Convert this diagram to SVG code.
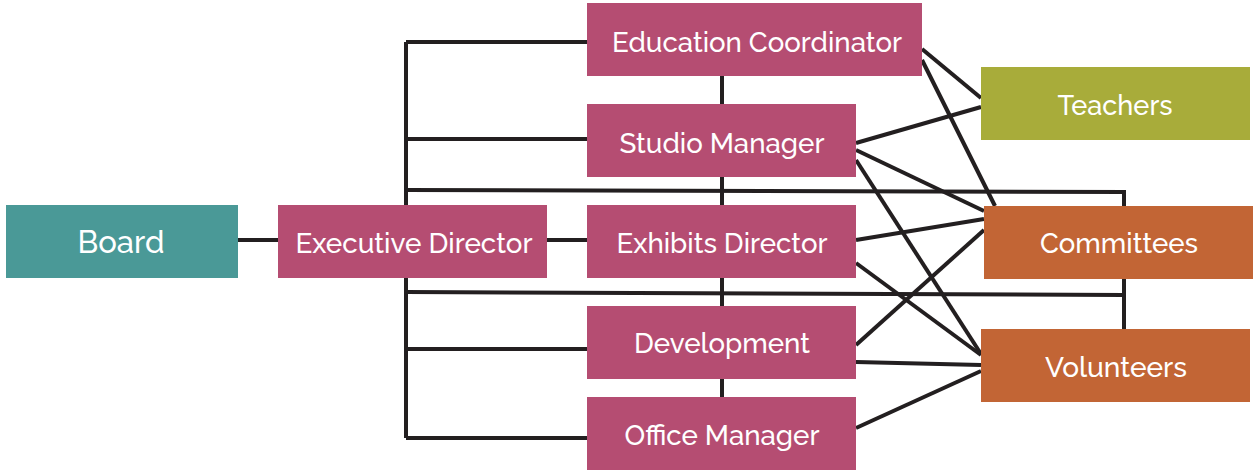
<svg xmlns="http://www.w3.org/2000/svg" width="1253" height="470" viewBox="0 0 1253 470">
<style>
.pink{fill:#b54d72}
.teal{fill:#4a9997}
.olive{fill:#a8ac3a}
.orange{fill:#c26535}
.lbl{font-family:Raleway,"Lato","Open Sans",sans-serif;font-size:27.5px;font-weight:500;fill:#ffffff;text-anchor:middle}
.big{font-size:32px}
.ln{stroke:#231f20;stroke-width:4;fill:none}
</style>
<rect width="1253" height="470" fill="#ffffff"/>
<g id="connectors">
<path class="ln" d="M406,42 V438"/>
<path class="ln" d="M406,42 H587"/>
<path class="ln" d="M406,139 H587"/>
<path class="ln" d="M406,349 H587"/>
<path class="ln" d="M406,438 H587"/>
<path class="ln" d="M406,190 L1124,192 V206"/>
<path class="ln" d="M406,292 L1124,295"/>
<path class="ln" d="M1124,279 V329"/>
<path class="ln" d="M238,240 H278"/>
<path class="ln" d="M547,240 H587"/>
<path class="ln" d="M722,76 V397"/>
<path class="ln" d="M922,49 L981,98"/>
<path class="ln" d="M922,60 L995,206"/>
<path class="ln" d="M856,143 L981,107"/>
<path class="ln" d="M856,150 L984,211"/>
<path class="ln" d="M856,160 L981,354"/>
<path class="ln" d="M856,240 L984,219"/>
<path class="ln" d="M856,263 L981,355"/>
<path class="ln" d="M856,345 L984,230"/>
<path class="ln" d="M856,362 L981,365"/>
<path class="ln" d="M856,428 L981,371"/>
</g>
<g id="board"><rect class="teal" x="6" y="205" width="232" height="73"/><text class="lbl big" x="121" y="253" textLength="87" lengthAdjust="spacingAndGlyphs">Board</text></g>
<g id="executive-director"><rect class="pink" x="278" y="205" width="269" height="73"/><text class="lbl" x="414" y="253" textLength="237" lengthAdjust="spacingAndGlyphs">Executive Director</text></g>
<g id="education-coordinator"><rect class="pink" x="587" y="3" width="335" height="73"/><text class="lbl" x="757" y="52" textLength="290" lengthAdjust="spacingAndGlyphs">Education Coordinator</text></g>
<g id="studio-manager"><rect class="pink" x="587" y="104" width="269" height="73"/><text class="lbl" x="722" y="153" textLength="205" lengthAdjust="spacingAndGlyphs">Studio Manager</text></g>
<g id="exhibits-director"><rect class="pink" x="587" y="205" width="269" height="73"/><text class="lbl" x="722" y="253" textLength="211" lengthAdjust="spacingAndGlyphs">Exhibits Director</text></g>
<g id="development"><rect class="pink" x="587" y="306" width="269" height="73"/><text class="lbl" x="722" y="353" textLength="176" lengthAdjust="spacingAndGlyphs">Development</text></g>
<g id="office-manager"><rect class="pink" x="587" y="397" width="269" height="73"/><text class="lbl" x="722" y="445" textLength="195" lengthAdjust="spacingAndGlyphs">Office Manager</text></g>
<g id="teachers"><rect class="olive" x="981" y="67" width="269" height="73"/><text class="lbl" x="1115" y="115" textLength="115" lengthAdjust="spacingAndGlyphs">Teachers</text></g>
<g id="committees"><rect class="orange" x="984" y="206" width="269" height="73"/><text class="lbl" x="1119" y="253" textLength="158" lengthAdjust="spacingAndGlyphs">Committees</text></g>
<g id="volunteers"><rect class="orange" x="981" y="329" width="269" height="73"/><text class="lbl" x="1116" y="377" textLength="142" lengthAdjust="spacingAndGlyphs">Volunteers</text></g>
</svg>
